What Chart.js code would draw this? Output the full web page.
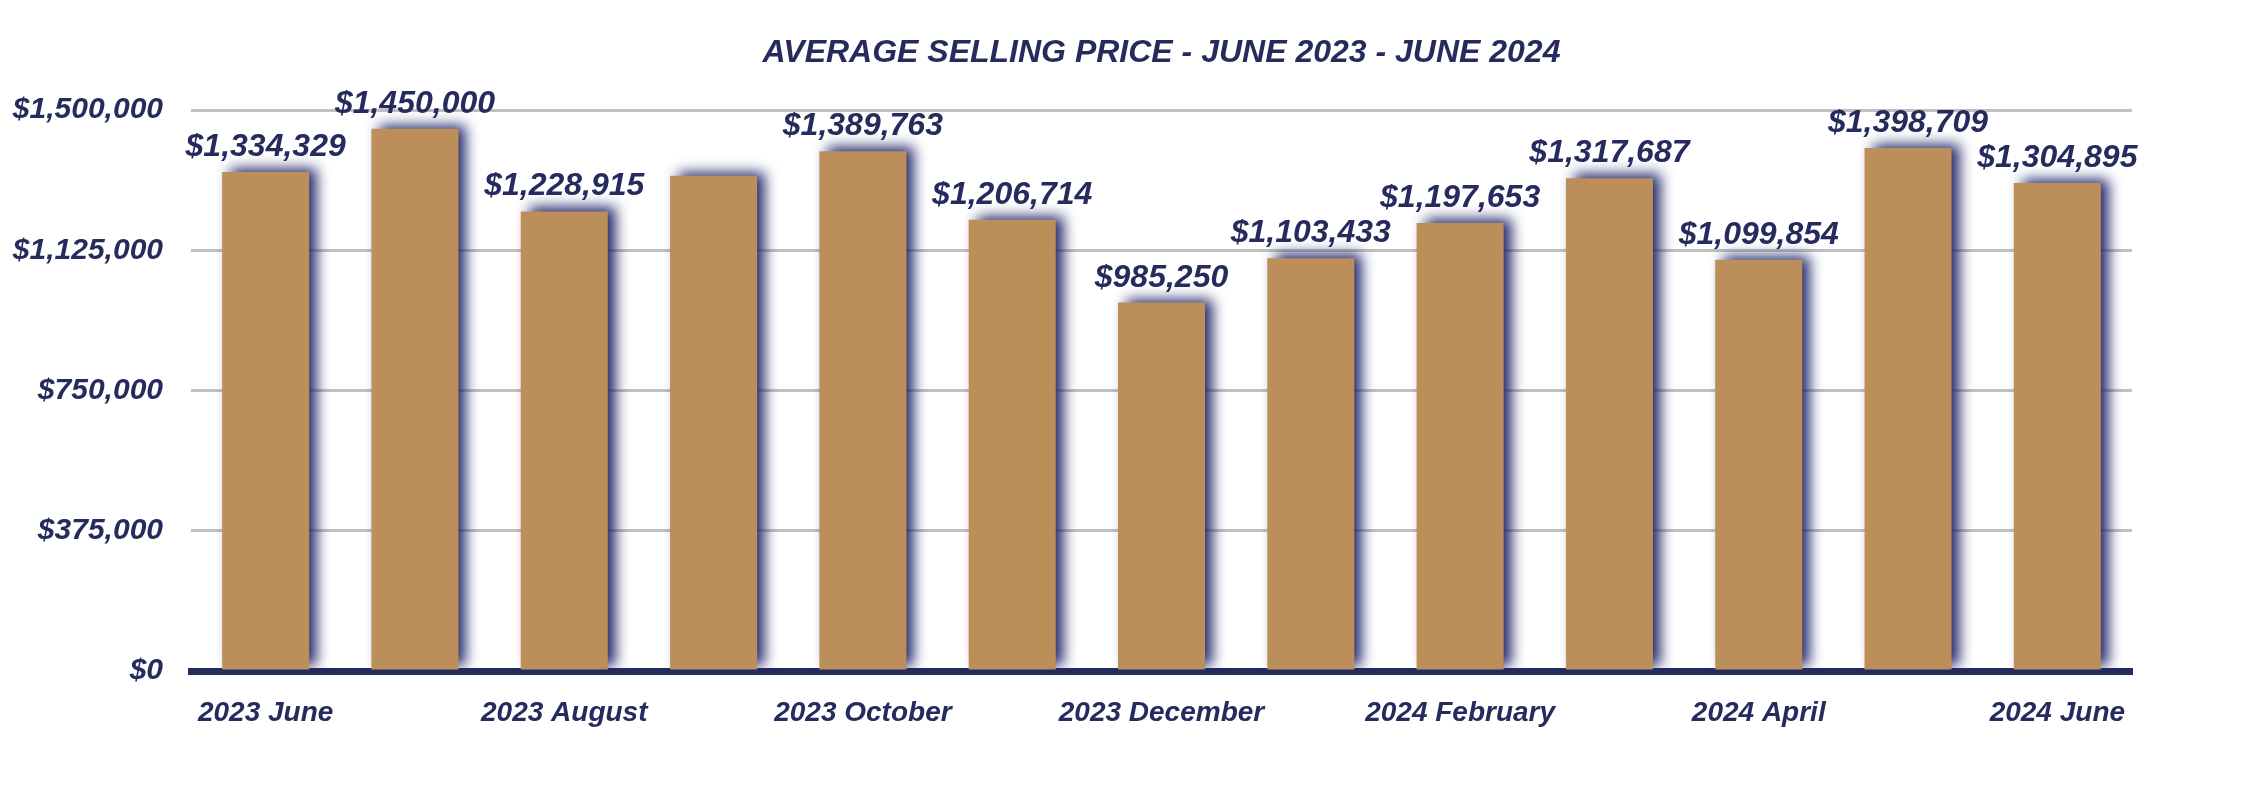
<!DOCTYPE html>
<html>
<head>
<meta charset="utf-8">
<script src="https://cdn.jsdelivr.net/npm/chart.js@4.4.1/dist/chart.umd.min.js"></script>
<style>
  html, body { margin: 0; padding: 0; background: #ffffff; }
  #wrap { width: 2268px; height: 790px; position: relative; }
</style>
</head>
<body>
<div id="wrap"><canvas id="c"></canvas></div>
<script>
const categories = ['2023 June','2023 July','2023 August','2023 September','2023 October','2023 November','2023 December','2024 January','2024 February','2024 March','2024 April','2024 May','2024 June'];
const prices = [1334329, 1450000, 1228915, 1324000, 1389763, 1206714, 985250, 1103433, 1197653, 1317687, 1099854, 1398709, 1304895];
const valueLabels = ['$1,334,329','$1,450,000','$1,228,915','','$1,389,763','$1,206,714','$985,250','$1,103,433','$1,197,653','$1,317,687','$1,099,854','$1,398,709','$1,304,895'];
const yTicks = [0, 375000, 750000, 1125000, 1500000];
const yTickLabels = ['$0','$375,000','$750,000','$1,125,000','$1,500,000'];
const titleText = 'AVERAGE SELLING PRICE - JUNE 2023 - JUNE 2024';

const NAVY = '#262b5e';
const GOLD = '#bc8f5a';
const FAMILY = '"Liberation Sans", Arial, sans-serif';

const shadowPlugin = {
  id: 'barShadow',
  beforeDatasetDraw(chart) {
    const ctx = chart.ctx;
    ctx.save();
    ctx.shadowColor = 'rgba(32,38,105,1)';
    ctx.shadowBlur = 13;
    ctx.shadowOffsetX = 8;
    ctx.shadowOffsetY = -4;
  },
  afterDatasetDraw(chart) {
    chart.ctx.restore();
  }
};

const labelPlugin = {
  id: 'valueLabels',
  afterDatasetsDraw(chart) {
    const ctx = chart.ctx;
    const meta = chart.getDatasetMeta(0);
    ctx.save();
    ctx.fillStyle = NAVY;
    ctx.font = 'italic bold 32px ' + FAMILY;
    ctx.textAlign = 'center';
    ctx.textBaseline = 'alphabetic';
    meta.data.forEach((bar, i) => {
      const t = valueLabels[i];
      if (!t) return;
      ctx.fillText(t, bar.x, bar.y - 16);
    });
    ctx.restore();
  }
};

const titlePlugin = {
  id: 'customTitle',
  afterDraw(chart) {
    const ctx = chart.ctx;
    const a = chart.chartArea;
    ctx.save();
    ctx.fillStyle = NAVY;
    ctx.font = 'italic bold 32px ' + FAMILY;
    ctx.textAlign = 'center';
    ctx.textBaseline = 'alphabetic';
    ctx.fillText(titleText, (a.left + a.right) / 2, 62);
    ctx.restore();
  }
};

new Chart(document.getElementById('c'), {
  type: 'bar',
  data: {
    labels: categories,
    datasets: [{
      data: prices,
      backgroundColor: GOLD,
      borderWidth: 0,
      categoryPercentage: 1.0,
      barPercentage: 0.583
    }]
  },
  options: {
    responsive: true,
    maintainAspectRatio: false,
    animation: false,
    devicePixelRatio: 1,
    layout: { padding: { top: 110, right: 136, bottom: 0, left: 0 } },
    plugins: {
      legend: { display: false },
      title: { display: false },
      tooltip: { enabled: false }
    },
    scales: {
      x: {
        grid: { display: false, drawTicks: false },
        border: { display: true, color: NAVY, width: 7 },
        ticks: {
          autoSkip: false,
          maxRotation: 0,
          minRotation: 0,
          padding: 25,
          color: NAVY,
          font: { family: FAMILY, size: 28, style: 'italic', weight: 'bold' },
          callback: function(v, i) { return i % 2 === 0 ? categories[i] : ''; }
        },
        afterFit(scale) { scale.height = 119; }
      },
      y: {
        min: 0,
        max: 1500000,
        afterBuildTicks(scale) { scale.ticks = yTicks.map(v => ({ value: v })); },
        grid: {
          color: '#c0c0c0',
          lineWidth: 3,
          drawTicks: false
        },
        border: { display: false },
        ticks: {
          padding: 28,
          color: NAVY,
          font: { family: FAMILY, size: 30, style: 'italic', weight: 'bold' },
          callback: function(v) { const i = yTicks.indexOf(v); return i >= 0 ? yTickLabels[i] : ''; }
        },
        afterFit(scale) { scale.width = 191; }
      }
    }
  },
  plugins: [shadowPlugin, labelPlugin, titlePlugin]
});
</script>
</body>
</html>
